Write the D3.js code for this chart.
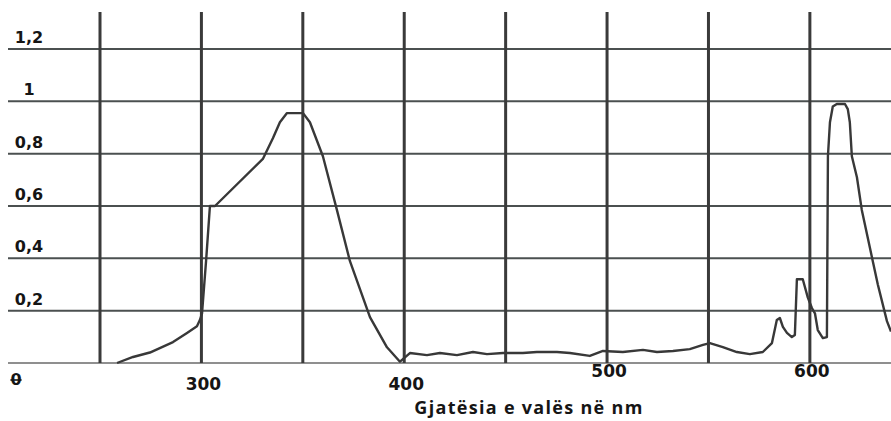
<!DOCTYPE html>
<html>
<head>
<meta charset="utf-8">
<script src="https://cdn.jsdelivr.net/npm/d3@7/dist/d3.min.js"></script>
<style>
  html, body { margin: 0; padding: 0; background: #fff; }
  svg { display: block; }
</style>
</head>
<body>
<div id="chart"></div>
<script>
// #region Data
const wavelengths = [
  258.4, 266.3, 274.6, 286.0, 292.9, 297.8, 299.3, 300.3, 302.3, 304.2,
  306.7, 330.3, 335.3, 338.7, 342.2, 350.1, 353.5, 359.9, 366.8, 373.2,
  383.1, 391.5, 397.9,
  402.8, 411.2, 417.6, 426.0, 433.9, 440.8, 448.7, 458.5, 465.4, 475.3,
  481.7, 491.5, 498.0, 507.8, 517.7, 524.6, 532.5, 540.8, 547.3, 550.7,
  557.1, 564.0, 570.4, 576.8, 581.3, 583.7, 585.2, 586.7, 588.7, 591.1,
  592.6, 593.6, 596.5, 599.0, 601.0, 602.5, 603.9, 606.4, 608.4, 608.9,
  609.9, 611.3, 613.3, 617.3, 618.7, 619.7, 620.7, 623.2, 625.6, 629.6,
  633.5, 638.0, 640.0,
];
const absorbance = [
  0.0, 0.023, 0.04, 0.08, 0.115, 0.14, 0.165, 0.19, 0.39, 0.6,
  0.6, 0.78, 0.86, 0.92, 0.955, 0.955, 0.92, 0.79, 0.585, 0.39,
  0.175, 0.06, 0.005,
  0.038, 0.03, 0.038, 0.03, 0.042, 0.034, 0.038, 0.038, 0.042, 0.042,
  0.038, 0.027, 0.046, 0.042, 0.05, 0.042, 0.046, 0.053, 0.069, 0.076,
  0.061, 0.042, 0.034, 0.042, 0.076, 0.164, 0.172, 0.138, 0.115, 0.099,
  0.107, 0.32, 0.32, 0.25, 0.21, 0.19, 0.126, 0.095, 0.099, 0.79,
  0.92, 0.98, 0.99, 0.99, 0.97, 0.92, 0.79, 0.71, 0.585, 0.44,
  0.30, 0.16, 0.12,
];
const xGridValues = [250, 300, 350, 400, 450, 500, 550, 600];
const xTickLabels = [300, 400, 500, 600];
const yTickValues = [0, 0.2, 0.4, 0.6, 0.8, 1, 1.2];
const xTitle = 'Gjatësia e valës në nm';
// #endregion

// #region Setup SVG
const width = 891;
const height = 421;
const svg = d3.select('#chart').append('svg')
  .attr('width', width)
  .attr('height', height);

const x = d3.scaleLinear().domain([250, 640]).range([100, 891]);
const y = d3.scaleLinear().domain([0, 1.2]).range([363, 49]);
const fmt = v => String(v).replace('.', ',');
// #endregion

// #region Grid
svg.append('g')
  .selectAll('line')
  .data(yTickValues)
  .enter()
  .append('line')
  .attr('x1', 8)
  .attr('x2', width)
  .attr('y1', d => y(d))
  .attr('y2', d => y(d))
  .attr('stroke', d => (d === 0 ? '#6a6a6a' : '#4b5050'))
  .attr('stroke-width', d => (d === 0 ? 1.5 : 2));

svg.append('g')
  .selectAll('line')
  .data(xGridValues)
  .enter()
  .append('line')
  .attr('x1', d => x(d))
  .attr('x2', d => x(d))
  .attr('y1', 12)
  .attr('y2', y(0))
  .attr('stroke', '#3a3a3a')
  .attr('stroke-width', 3);
// #endregion

// #region Curve
const points = wavelengths.map((w, i) => [w, absorbance[i]]);
const line = d3.line()
  .x(d => x(d[0]))
  .y(d => y(d[1]));

svg.append('path')
  .datum(points)
  .attr('d', line)
  .attr('fill', 'none')
  .attr('stroke', '#383838')
  .attr('stroke-width', 2.4)
  .attr('stroke-linejoin', 'round');
// #endregion

// #region Labels
svg.append('g')
  .selectAll('text')
  .data(yTickValues)
  .enter()
  .append('text')
  .text(d => fmt(d))
  .attr('x', d => (d === 0 ? 16 : 29))
  .attr('y', d => (d === 0 ? y(d) + 22 : y(d) - 6))
  .attr('text-anchor', 'middle')
  .attr('text-decoration', d => (d === 0 ? 'line-through' : null))
  .style('font-family', 'DejaVu Sans')
  .style('font-weight', 'bold')
  .style('font-size', '16px')
  .style('fill', '#151515');

// the scanned labels sit a little higher on the right side
const xLabelBase = d => (d >= 500 ? 377 : 390);

svg.append('g')
  .selectAll('text')
  .data(xTickLabels)
  .enter()
  .append('text')
  .text(d => d)
  .attr('x', d => x(d) + 2)
  .attr('y', xLabelBase)
  .attr('text-anchor', 'middle')
  .style('font-family', 'DejaVu Sans')
  .style('font-weight', 'bold')
  .style('font-size', '17px')
  .style('fill', '#151515');

svg.append('text')
  .text(xTitle)
  .attr('x', 529)
  .attr('y', 414)
  .attr('text-anchor', 'middle')
  .style('font-family', 'Open Sans')
  .style('font-weight', 'bold')
  .style('font-size', '18px')
  .style('letter-spacing', '1.3px')
  .style('fill', '#151515');
// #endregion
</script>
</body>
</html>
